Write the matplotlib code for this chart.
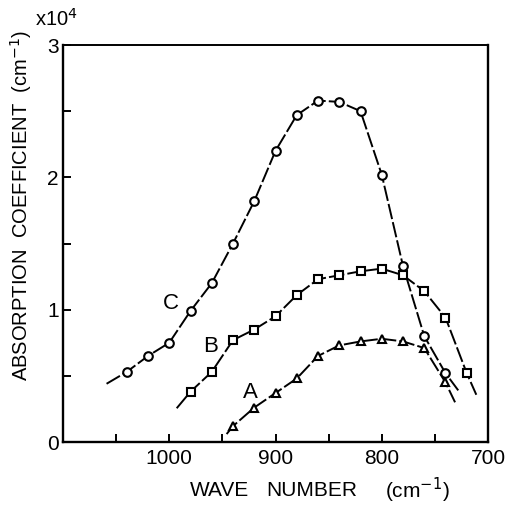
import matplotlib
matplotlib.use("Agg")
import matplotlib.pyplot as plt
from matplotlib.ticker import FixedLocator

plt.rcParams['font.family'] = ['Liberation Sans', 'DejaVu Sans']

# Data (absorption coefficient in units of 1e4 cm^-1)
wn_C = [1040, 1020, 1000, 980, 960, 940, 920, 900, 880, 860, 840, 820, 800, 780, 760, 740]
abs_C = [0.53, 0.65, 0.75, 0.99, 1.20, 1.50, 1.82, 2.20, 2.47, 2.58, 2.57, 2.50, 2.02, 1.33, 0.80, 0.52]
C_ends_x = [1059, 728]
C_ends_y = [0.44, 0.39]

wn_B = [980, 960, 940, 920, 900, 880, 860, 840, 820, 800, 780, 760, 740, 720]
abs_B = [0.38, 0.53, 0.77, 0.85, 0.95, 1.11, 1.23, 1.26, 1.29, 1.31, 1.26, 1.14, 0.94, 0.52]
B_ends_x = [993, 711]
B_ends_y = [0.255, 0.357]

wn_A = [940, 920, 900, 880, 860, 840, 820, 800, 780, 760, 740]
abs_A = [0.12, 0.26, 0.37, 0.48, 0.65, 0.73, 0.76, 0.78, 0.76, 0.71, 0.45]
A_ends_x = [946, 731]
A_ends_y = [0.06, 0.30]

curve_labels = ["C", "B", "A"]
label_x = [998, 961, 924]
label_y = [1.045, 0.723, 0.374]

xticks_major = [1000, 900, 800, 700]
xticks_minor = [1050, 950, 850, 750]
yticks_major = [0, 1, 2, 3]
yticks_minor = [0.5, 1.5, 2.5]

fig = plt.figure(figsize=(5.07, 5.05), dpi=100)
ax = fig.add_axes([63/507, 1-442/505, (488-63)/507, (442-45)/505])

series = [
    (wn_C, abs_C, C_ends_x, C_ends_y, 'o', 6.2),
    (wn_B, abs_B, B_ends_x, B_ends_y, 's', 5.2),
    (wn_A, abs_A, A_ends_x, A_ends_y, '^', 5.8),
]
for wx, ay, ex, ey, mk, ms in series:
    lx = [ex[0]] + list(wx) + [ex[1]]
    ly = [ey[0]] + list(ay) + [ey[1]]
    ax.plot(lx, ly, color='black', lw=1.4, dashes=(8, 1.6), zorder=2)
    ax.plot(wx, ay, linestyle='none', marker=mk, ms=ms, mfc='white',
            mec='black', mew=1.5, zorder=3)

for t, x, y in zip(curve_labels, label_x, label_y):
    ax.text(x, y, t, fontsize=16, ha='center', va='center')

ax.set_xlim(1100, 700)
ax.set_ylim(0, 3)
ax.xaxis.set_major_locator(FixedLocator(xticks_major))
ax.xaxis.set_minor_locator(FixedLocator(xticks_minor))
ax.yaxis.set_major_locator(FixedLocator(yticks_major))
ax.yaxis.set_minor_locator(FixedLocator(yticks_minor))
ax.set_xticklabels([str(v) for v in xticks_major])
ax.set_yticklabels([str(v) for v in yticks_major])

ax.tick_params(which='both', direction='in', length=6, width=1.4,
               top=False, right=False, labelsize=15)
ax.tick_params(axis='y', pad=3)
ax.tick_params(axis='x', pad=5)
for s in ['left', 'bottom', 'right']:
    ax.spines[s].set_linewidth(1.7)
ax.spines['top'].set_linewidth(1.4)

fig.text(56/507, 1-19/505, r'x10$^{4}$', fontsize=14.5, ha='center', va='center')
fig.text(21/507, 1-206/505, r'ABSORPTION  COEFFICIENT  (cm$^{-1}$)',
         fontsize=14.5, rotation=90, ha='center', va='center')
fig.text(190/507, 1-490/505, 'WAVE', fontsize=15, ha='left', va='center')
fig.text(266/507, 1-490/505, 'NUMBER', fontsize=15, ha='left', va='center')
fig.text(385/507, 1-490/505, r'(cm$^{-1}$)', fontsize=15, ha='left', va='center')

fig.savefig('out.png', dpi=100)
